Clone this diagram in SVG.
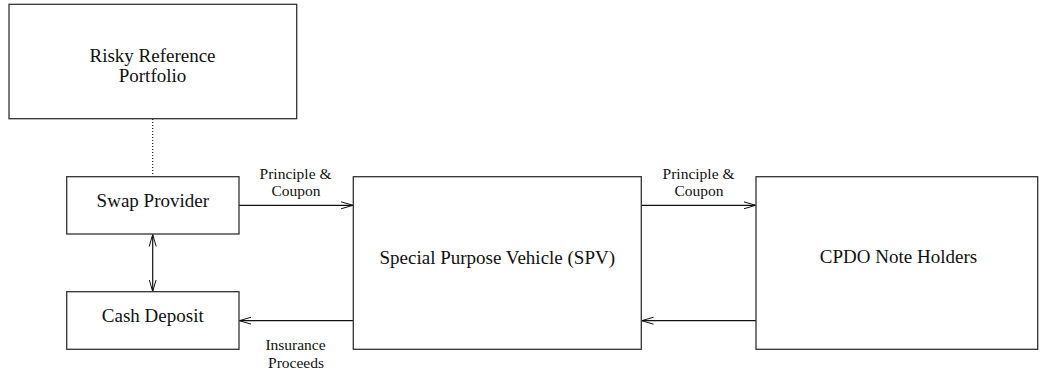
<svg xmlns="http://www.w3.org/2000/svg" width="1040" height="374" viewBox="0 0 1040 374">
<style>
.box{fill:#fff;stroke:#333;stroke-width:1.3}
.t{font-family:"Liberation Serif","Times New Roman",serif;font-size:19px;fill:#111;text-anchor:middle}
.l{font-family:"Liberation Serif","Times New Roman",serif;font-size:15.5px;fill:#111;text-anchor:middle}
.c{fill:none;stroke:#111;stroke-width:1.2}
</style>
<defs>
<marker id="ah" markerUnits="userSpaceOnUse" markerWidth="14" markerHeight="10" refX="12" refY="4" orient="auto-start-reverse" viewBox="0 0 14 8">
<path d="M0,0.5 L12,4 L0,7.5" fill="none" stroke="#111" stroke-width="1"/>
</marker>
</defs>
<rect width="1040" height="374" fill="#fff"/>
<g id="connectors">
<line class="c" x1="152.7" y1="119" x2="152.7" y2="176.5" stroke-dasharray="1 2"/>
<line class="c" x1="152.7" y1="234.5" x2="152.7" y2="291.5" marker-start="url(#ah)" marker-end="url(#ah)"/>
<line class="c" x1="239" y1="205.3" x2="353" y2="205.3" marker-end="url(#ah)"/>
<line class="c" x1="641.3" y1="205.3" x2="755.7" y2="205.3" marker-end="url(#ah)"/>
<line class="c" x1="353" y1="320.7" x2="239.3" y2="320.7" marker-end="url(#ah)"/>
<line class="c" x1="756" y1="320.7" x2="641.6" y2="320.7" marker-end="url(#ah)"/>
<text class="l" x="295.5" y="178.5">Principle &amp;</text>
<text class="l" x="296" y="196">Coupon</text>
<text class="l" x="698.5" y="178.5">Principle &amp;</text>
<text class="l" x="699" y="196">Coupon</text>
<text class="l" x="295.5" y="349.5">Insurance</text>
<text class="l" x="296" y="367.5">Proceeds</text>
</g>
<g id="risky">
<rect class="box" x="9" y="4.3" width="287.7" height="114.4"/>
<text class="t" x="152.5" y="62">Risky Reference</text>
<text class="t" x="152.5" y="82.3">Portfolio</text>
</g>
<g id="swap">
<rect class="box" x="66.7" y="176.7" width="172.3" height="57.3"/>
<text class="t" x="152.8" y="206.7">Swap Provider</text>
</g>
<g id="cash">
<rect class="box" x="66.7" y="291.7" width="172.3" height="57.6"/>
<text class="t" x="152.8" y="321.7">Cash Deposit</text>
</g>
<g id="spv">
<rect class="box" x="353.3" y="176.7" width="288" height="172.6"/>
<text class="t" x="497.3" y="263.5">Special Purpose Vehicle (SPV)</text>
</g>
<g id="cpdo">
<rect class="box" x="756" y="176.7" width="281.7" height="172.6"/>
<text class="t" x="898.5" y="263.3">CPDO Note Holders</text>
</g>
</svg>
